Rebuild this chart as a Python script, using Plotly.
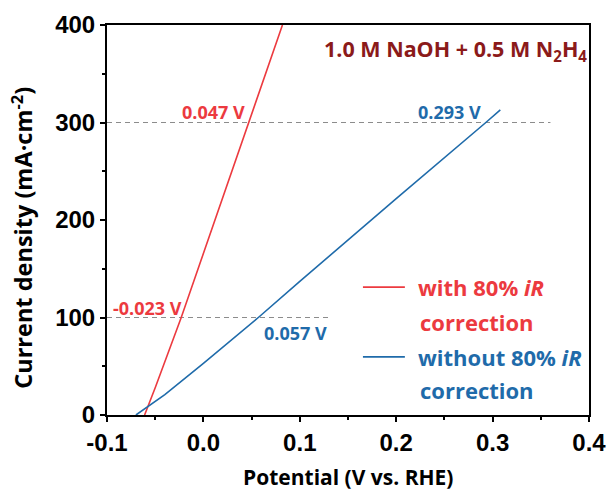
import plotly.graph_objects as go

# Data
with_ir_x = [-0.061, -0.05, -0.023, 0.0, 0.047, 0.082]
with_ir_y = [0, 28, 100, 166, 300, 400]
without_ir_x = [-0.070, -0.06, -0.04, 0.0, 0.057, 0.10, 0.20, 0.293, 0.308]
without_ir_y = [0, 7, 21, 53, 100, 137, 222, 300, 313]
ref_levels = [300, 100]
ref_ends = [0.36, 0.13]
x_tickvals = [-0.1, 0.0, 0.1, 0.2, 0.3, 0.4]
x_ticktext = ["-0.1", "0.0", "0.1", "0.2", "0.3", "0.4"]
y_tickvals = [0, 100, 200, 300, 400]
y_ticktext = ["0", "100", "200", "300", "400"]

RED = "#EC3A3F"
BLUE = "#1F6BAA"
DARKRED = "#8B1A1A"
TXT = "Open Sans"

fig = go.Figure()
for lvl, xe in zip(ref_levels, ref_ends):
    fig.add_trace(go.Scatter(x=[-0.1, xe], y=[lvl, lvl], mode="lines",
                             line=dict(color="#8C8C8C", width=1.1, dash="5px,4px"),
                             showlegend=False, hoverinfo="skip"))
fig.add_trace(go.Scatter(x=with_ir_x, y=with_ir_y, mode="lines",
                         line=dict(color=RED, width=1.6), showlegend=False))
fig.add_trace(go.Scatter(x=without_ir_x, y=without_ir_y, mode="lines",
                         line=dict(color=BLUE, width=1.6), showlegend=False))

# value labels
annots = [
    dict(x=0.047, y=300, text="<b>0.047 V</b>", color=RED, xanchor="right", xshift=-2, yshift=11),
    dict(x=0.293, y=300, text="<b>0.293 V</b>", color=BLUE, xanchor="right", xshift=-3, yshift=11),
    dict(x=-0.023, y=100, text="<b>-0.023 V</b>", color=RED, xanchor="right", xshift=3, yshift=10),
    dict(x=0.057, y=100, text="<b>0.057 V</b>", color=BLUE, xanchor="left", xshift=4, yshift=-15),
]
for a in annots:
    fig.add_annotation(x=a["x"], y=a["y"], text=a["text"], showarrow=False,
                       xanchor=a["xanchor"], yanchor="middle", xshift=a["xshift"], yshift=a["yshift"],
                       font=dict(family=TXT, size=18, color=a["color"]))

# condition label
fig.add_annotation(x=1.0, y=0.935, xref="paper", yref="paper",
                   text="<b>1.0 M NaOH + 0.5 M N<sub>2</sub>H<sub>4</sub></b>",
                   showarrow=False, xanchor="right", yanchor="middle",
                   font=dict(family=TXT, size=21.5, color=DARKRED))

# legend (drawn manually to match two-line layout)
legend_items = [
    dict(color=RED, y1=0.328, y2=0.238, line1="<b>with 80% <i>iR</i></b>"),
    dict(color=BLUE, y1=0.149, y2=0.064, line1="<b>without 80% <i>iR</i></b>"),
]
for it in legend_items:
    fig.add_shape(type="line", xref="paper", yref="paper", x0=0.531, x1=0.618,
                  y0=it["y1"], y1=it["y1"], line=dict(color=it["color"], width=1.6))
    fig.add_annotation(x=0.642, y=it["y1"], xref="paper", yref="paper", text=it["line1"],
                       showarrow=False, xanchor="left", yanchor="middle",
                       font=dict(family=TXT, size=22, color=it["color"]))
    fig.add_annotation(x=0.645, y=it["y2"], xref="paper", yref="paper", text="<b>correction</b>",
                       showarrow=False, xanchor="left", yanchor="middle",
                       font=dict(family=TXT, size=22, color=it["color"]))

# axis titles as annotations
fig.add_annotation(x=-0.176, y=0.455, xref="paper", yref="paper", textangle=-90,
                   text="<b>Current density (mA·cm<sup>-2</sup>)</b>", showarrow=False,
                   xanchor="center", yanchor="middle",
                   font=dict(family=TXT, size=23.5, color="black"))
fig.add_annotation(x=0.5, y=-0.159, xref="paper", yref="paper",
                   text="<b>Potential (V vs. RHE)</b>", showarrow=False,
                   xanchor="center", yanchor="middle",
                   font=dict(family=TXT, size=21, color="black"))

axis_common = dict(showline=True, linecolor="black", linewidth=2, mirror=True,
                   ticks="outside", ticklen=5, tickwidth=2, tickcolor="black",
                   showgrid=False, zeroline=False, automargin=False,
                   tickfont=dict(family="Liberation Sans", size=24, color="black", weight="bold"))
fig.update_xaxes(range=[-0.1, 0.4], tickvals=x_tickvals, ticktext=x_ticktext,
                 minor=dict(ticks="outside", ticklen=3, tickwidth=1.5, dtick=0.05, tickcolor="black"),
                 **axis_common)
fig.update_yaxes(range=[0, 400], tickvals=y_tickvals, ticktext=y_ticktext,
                 minor=dict(ticks="outside", ticklen=3, tickwidth=1.5, dtick=50, tickcolor="black"),
                 **axis_common)

fig.update_layout(width=609, height=491, margin=dict(l=107, r=20, t=25, b=76),
                  plot_bgcolor="white", paper_bgcolor="white", showlegend=False)
fig.write_html("out.html")
